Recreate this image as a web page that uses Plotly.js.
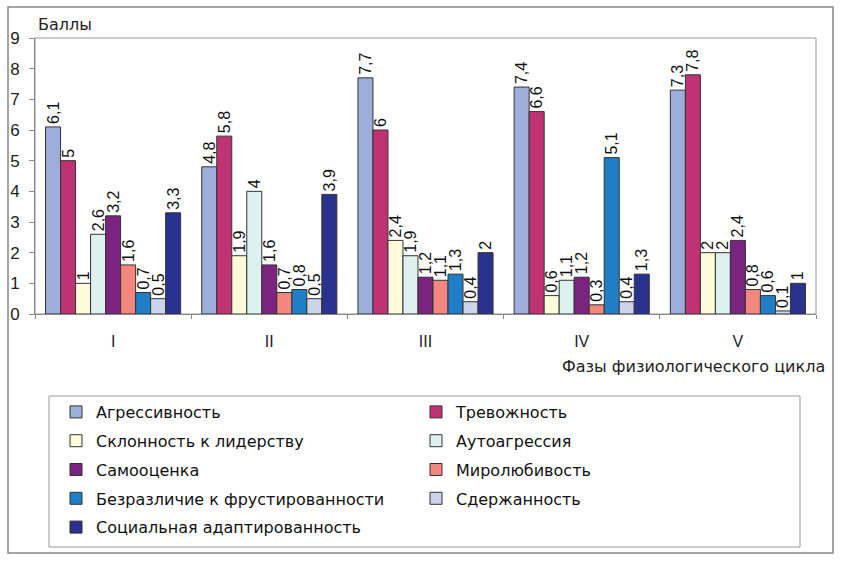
<!DOCTYPE html>
<html><head><meta charset="utf-8">
<script src="https://cdn.plot.ly/plotly-3.0.1.min.js"></script>
<style>html,body{margin:0;padding:0;background:#fff}#chart{width:842px;height:562px}</style>
</head><body><div id="chart"></div>
<script>
var phases = ['I', 'II', 'III', 'IV', 'V'];
var seriesNames = ['Агрессивность', 'Тревожность', 'Склонность к лидерству', 'Аутоагрессия', 'Самооценка', 'Миролюбивость', 'Безразличие к фрустированности', 'Сдержанность', 'Социальная адаптированность'];
var aggression = [6.1, 4.8, 7.7, 7.4, 7.3];
var anxiety = [5, 5.8, 6, 6.6, 7.8];
var leadership = [1, 1.9, 2.4, 0.6, 2];
var autoaggression = [2.6, 4, 1.9, 1.1, 2];
var selfEsteem = [3.2, 1.6, 1.2, 1.2, 2.4];
var peacefulness = [1.6, 0.7, 1.1, 0.3, 0.8];
var frustrationIndifference = [0.7, 0.8, 1.3, 5.1, 0.6];
var restraint = [0.5, 0.5, 0.4, 0.4, 0.1];
var socialAdaptation = [3.3, 3.9, 2, 1.3, 1];
var seriesValues = [aggression, anxiety, leadership, autoaggression, selfEsteem, peacefulness, frustrationIndifference, restraint, socialAdaptation];
var colors = ['#9DAEDB', '#BF3374', '#FFFBDA', '#DDF1F0', '#7A2480', '#F2877F', '#1F7EC6', '#CCD3EA', '#29328F'];

var FONT = 'Liberation Sans, Arial, sans-serif';
var WIDE = 'DejaVu Sans, Liberation Sans, sans-serif';
var traces = seriesValues.map(function (vals, i) {
  return {
    type: 'bar', name: seriesNames[i], x: phases, y: vals,
    text: vals.map(function (v) { return String(v).replace('.', ','); }),
    textposition: 'outside', textangle: -90, constraintext: 'none', cliponaxis: false,
    textfont: {family: FONT, size: 16, color: '#111'},
    marker: {color: colors[i], line: {color: '#333', width: 1}},
    legend: (i % 2 === 0) ? 'legend' : 'legend2',
    legendgroup: 'g' + i,
    hoverinfo: 'skip'
  };
});

var L = 35, R = 816, T = 38, B = 314;
function px(x) { return (x - L) / (R - L); }
function py(y) { return (B - y) / (B - T); }

var layout = {
  width: 842, height: 562,
  margin: {l: L, r: 842 - R, t: T, b: 562 - B, autoexpand: false},
  paper_bgcolor: '#fff', plot_bgcolor: '#fff',
  font: {family: FONT, size: 16, color: '#111'},
  separators: ', ',
  barmode: 'group', bargap: 0.135, bargroupgap: 0,
  showlegend: true,
  xaxis: {
    type: 'category', showline: true, linecolor: '#888', linewidth: 1,
    ticks: 'outside', tickson: 'boundaries', ticklen: 4, tickcolor: '#888',
    tickfont: {family: FONT, size: 16, color: '#222'}, ticklabelstandoff: 13,
    showgrid: false, zeroline: false
  },
  yaxis: {
    range: [0, 9], dtick: 1, showline: true, linecolor: '#888', linewidth: 1,
    ticks: 'outside', ticklen: 5, tickcolor: '#888',
    tickfont: {family: FONT, size: 17, color: '#222'}, ticklabelstandoff: 6,
    showgrid: false, zeroline: false, fixedrange: true
  },
  legend: {
    x: px(56), y: py(395), xanchor: 'left', yanchor: 'top', orientation: 'v',
    bgcolor: 'rgba(0,0,0,0)', borderwidth: 0, tracegroupgap: 5,
    font: {family: WIDE, size: 16, color: '#111'}
  },
  legend2: {
    x: px(416), y: py(395), xanchor: 'left', yanchor: 'top', orientation: 'v',
    bgcolor: 'rgba(0,0,0,0)', borderwidth: 0, tracegroupgap: 5,
    font: {family: WIDE, size: 16, color: '#111'}
  },
  shapes: [
    {type: 'rect', xref: 'paper', yref: 'paper', x0: 0, x1: 1, y0: 0, y1: 1, line: {color: '#999', width: 1}, layer: 'below'},
    {type: 'rect', xref: 'paper', yref: 'paper', x0: px(49), x1: px(800), y0: py(547), y1: py(396), line: {color: '#999', width: 1}},
    {type: 'rect', xref: 'paper', yref: 'paper', x0: px(8), x1: px(833), y0: py(553), y1: py(7), line: {color: '#888', width: 1.5}}
  ],
  annotations: [
    {text: 'Баллы', xref: 'paper', yref: 'paper', x: px(36), y: py(24), xanchor: 'left', yanchor: 'middle', showarrow: false, font: {family: WIDE, size: 16, color: '#222'}},
    {text: 'Фазы физиологического цикла', xref: 'paper', yref: 'paper', x: px(827), y: py(366), xanchor: 'right', yanchor: 'middle', showarrow: false, font: {family: WIDE, size: 16, color: '#222'}}
  ]
};
Plotly.newPlot('chart', traces, layout, {staticPlot: true, displayModeBar: false});
</script></body></html>
